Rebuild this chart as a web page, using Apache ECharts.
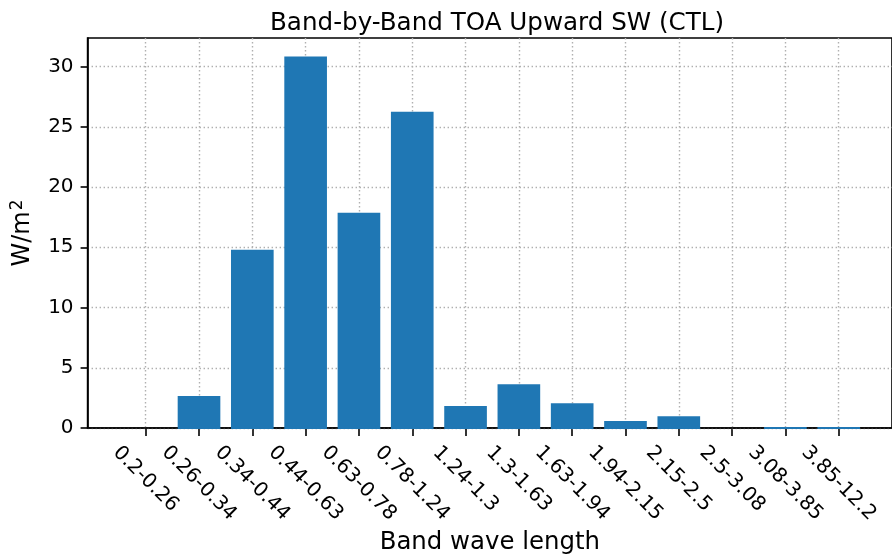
<!DOCTYPE html>
<html>
<head>
<meta charset="utf-8">
<script src="https://cdn.jsdelivr.net/npm/echarts@6/dist/echarts.min.js"></script>
<style>
  html, body { margin: 0; padding: 0; background: #fff; }
  #chart { width: 892px; height: 560px; }
</style>
</head>
<body>
<div id="chart"></div>
<script>
// Spectral bands (micrometres) and the TOA upward shortwave flux in each
const bands = ['0.2-0.26', '0.26-0.34', '0.34-0.44', '0.44-0.63', '0.63-0.78', '0.78-1.24', '1.24-1.3',
               '1.3-1.63', '1.63-1.94', '1.94-2.15', '2.15-2.5', '2.5-3.08', '3.08-3.85', '3.85-12.2'];
const fluxCTL = [0, 2.73, 14.84, 30.83, 17.9, 26.27, 1.9, 3.7, 2.13, 0.66, 1.05, 0, 0.17, 0.17];
const yTicks = [0, 5, 10, 15, 20, 25, 30];

const FONT = 'DejaVu Sans';
const yMax = Math.max.apply(null, fluxCTL) * 1.05;
const gridDash = { color: '#b0b0b0', width: 1.4, type: [1.4, 2.6] };
const spine = { color: '#000', width: 1.6 };

// Geometry: outer frame holds the spines and y axis, inner grid spans first..last band centre
const plotTop = 38, plotHeight = 391;
const step = 53.31;
const firstX = 145.7;
const pad = 1.09; // frame margin in band units

const chart = echarts.init(document.getElementById('chart'), null, { renderer: 'canvas' });

chart.setOption({
  animation: false,
  backgroundColor: '#fff',
  title: {
    text: 'Band-by-Band TOA Upward SW (CTL)',
    left: 265,
    top: 6,
    textStyle: { fontFamily: FONT, fontSize: 24.6, fontWeight: 'normal', color: '#000' }
  },
  grid: [
    {
      left: firstX - pad * step, top: plotTop,
      width: (13 + 2 * pad) * step, height: plotHeight,
      show: true, borderColor: '#000', borderWidth: 1.6, backgroundColor: 'transparent'
    },
    {
      left: firstX, top: plotTop,
      width: 13 * step, height: plotHeight
    }
  ],
  xAxis: [
    {
      gridIndex: 0, type: 'value', min: 0, max: 1, z: 3,
      axisLine: { show: true, lineStyle: spine },
      axisTick: { show: false }, axisLabel: { show: false }, splitLine: { show: false },
      name: 'Band wave length', nameLocation: 'middle', nameGap: 103,
      nameTextStyle: { fontFamily: FONT, fontSize: 24.4, color: '#000' }
    },
    {
      gridIndex: 1, type: 'category', data: bands, boundaryGap: false,
      axisLine: { show: false },
      axisTick: { show: true, interval: 0, length: 7, lineStyle: spine },
      splitLine: { show: true, interval: 0, lineStyle: gridDash },
      axisLabel: {
        interval: 0, rotate: -45, align: 'center', verticalAlign: 'middle', margin: 50,
        fontFamily: FONT, fontSize: 20, color: '#000',
        formatter: function (v) { return v.length > 8 ? '{l|' + v + '}' : '{s|' + v + '}'; },
        rich: {
          s: { fontFamily: FONT, fontSize: 20, color: '#000' },
          l: { fontFamily: FONT, fontSize: 20, color: '#000', padding: [6, 0, 0, 6] }
        }
      }
    }
  ],
  yAxis: [
    {
      gridIndex: 0, type: 'value', min: 0, max: yMax, z: 3,
      axisLine: { show: true, lineStyle: spine },
      axisTick: { show: true, length: 7, lineStyle: spine, customValues: yTicks },
      axisLabel: {
        margin: 14, fontFamily: FONT, fontSize: 20, color: '#000', customValues: yTicks
      },
      splitLine: { show: true, lineStyle: gridDash },
      name: '{m|W/m}{p|2}', nameLocation: 'middle', nameGap: 50,
      nameTextStyle: {
        fontFamily: FONT, fontSize: 24, color: '#000',
        rich: {
          m: { fontFamily: FONT, fontSize: 24, color: '#000' },
          p: { fontFamily: FONT, fontSize: 17, color: '#000', verticalAlign: 'top', padding: [0, 0, 12, 1] }
        }
      }
    },
    {
      gridIndex: 1, type: 'value', min: 0, max: yMax, show: false,
      splitLine: { show: false }
    }
  ],
  series: [
    {
      type: 'bar', name: 'CTL',
      xAxisIndex: 1, yAxisIndex: 1,
      data: fluxCTL,
      barWidth: '80%',
      clip: false,
      z: 4,
      itemStyle: { color: '#1f77b4' }
    }
  ]
});
</script>
</body>
</html>
